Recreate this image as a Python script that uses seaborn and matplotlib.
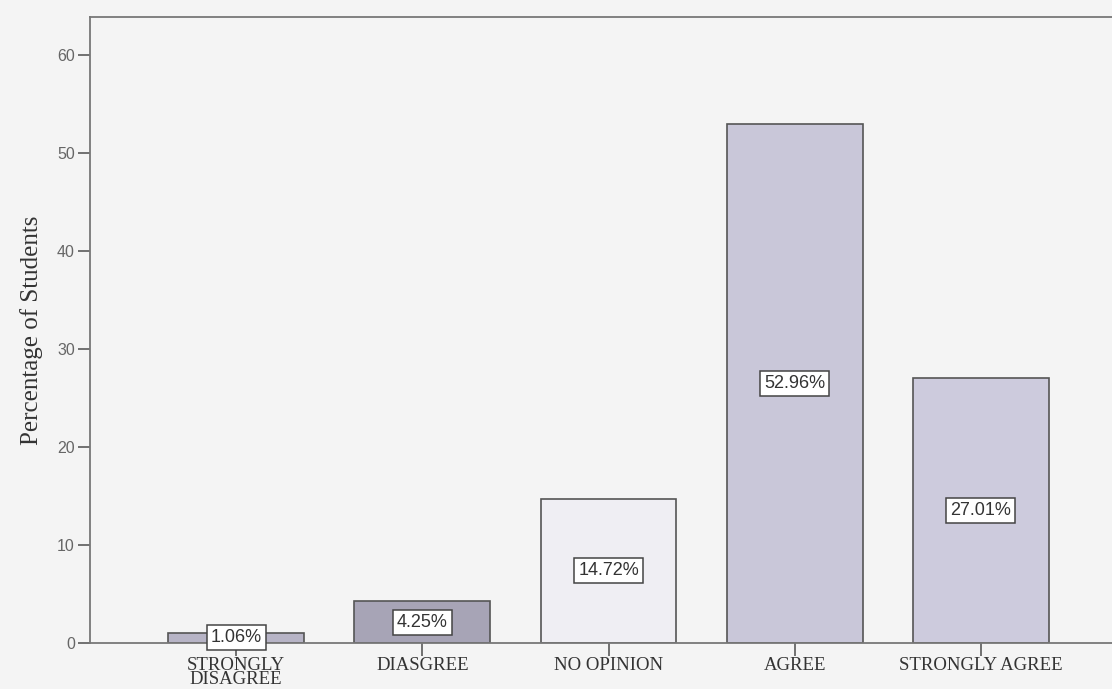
import matplotlib
matplotlib.use("Agg")
import matplotlib.pyplot as plt
import seaborn as sns
import pandas as pd

# data
categories = ["STRONGLY\nDISAGREE", "DIASGREE", "NO OPINION", "AGREE", "STRONGLY AGREE"]
percentages = [1.06, 4.25, 14.72, 52.96, 27.01]
bar_colors = ["#b7b4c6", "#a7a4b6", "#efeef3", "#c9c7d9", "#cdcbdd"]
y_ticks = [0, 10, 20, 30, 40, 50, 60]

sns.set_style("white")
plt.rcParams["font.family"] = ["Liberation Sans", "DejaVu Sans"]

df = pd.DataFrame({"category": categories, "pct": percentages})

bg = "#f4f4f4"
fig = plt.figure(figsize=(11.12, 6.89), dpi=100, facecolor=bg)
ax = fig.add_axes([0.081, 0.0668, 0.9325, 0.9086], facecolor=bg)

sns.barplot(data=df, x="category", y="pct", hue="category", palette=bar_colors,
            legend=False, width=0.73, edgecolor="#555555", linewidth=1.2,
            saturation=1, ax=ax)

# boxed value labels in the middle of each bar
for i, v in enumerate(percentages):
    ax.text(i, v / 2, f"{v:.2f}%", ha="center", va="center", fontsize=13,
            color="#333333",
            bbox=dict(boxstyle="square,pad=0.22", facecolor="white",
                      edgecolor="#444444", linewidth=1.1))

ax.set_xlim(-0.785, 4.785)
ax.set_ylim(0, 63.9)
ax.set_yticks(y_ticks)
ax.set_yticklabels([str(t) for t in y_ticks], fontsize=11.5, color="#666666")
ax.set_xticks(range(len(categories)))
ax.set_xticklabels(categories, fontsize=13.5, color="#333333",
                   family=["Liberation Serif", "DejaVu Serif"], linespacing=0.78)
ax.tick_params(axis="both", direction="out", length=9, width=1.3, color="#666666",
               left=True, bottom=True, pad=2)
ax.tick_params(axis="x", pad=1)

ax.set_xlabel("")
ax.set_ylabel("Percentage of Students", fontsize=18, color="#333333",
              family=["Liberation Serif", "DejaVu Serif"], labelpad=10)

for s in ax.spines.values():
    s.set_visible(True)
    s.set_color("#777777")
    s.set_linewidth(1.3)

fig.savefig("out.png", dpi=100, facecolor=bg)
